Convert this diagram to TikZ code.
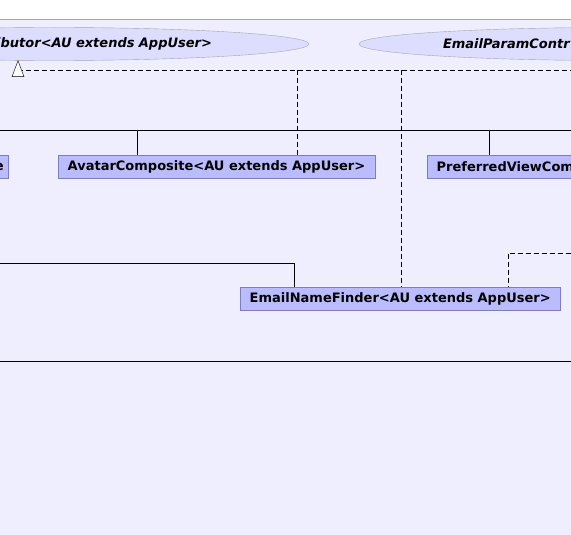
\documentclass[tikz,border=0pt]{standalone}
\usepackage{fontspec}
\setmainfont{DejaVu Sans}
\usetikzlibrary{shapes.geometric}

\definecolor{fond}{RGB}{238,238,255}
\definecolor{bulle}{RGB}{221,221,255}
\definecolor{boite}{RGB}{187,187,255}
\definecolor{bord}{RGB}{125,125,190}

\tikzset{
  classe/.style={draw=bord, fill=boite, font=\fontsize{13}{15}\selectfont\bfseries,
    inner xsep=9.5pt, inner ysep=0pt, minimum height=23pt},
  interface/.style={ellipse, draw=gray!70, fill=bulle,
    font=\fontsize{13}{15}\selectfont\bfseries\itshape,
    minimum width=510pt, minimum height=33pt, inner sep=0pt},
  realise/.style={dash pattern=on 5pt off 3pt},
}

\begin{document}
\begin{tikzpicture}[x=1pt,y=-1pt]

\useasboundingbox (0,0) rectangle (571,535);
\clip (0,0) rectangle (571,535);

% Fond
\fill[fond] (0,19) rectangle (571,535);
\draw[gray!70] (0,19) -- (571,19);

% Interfaces
\node[interface, text width=316pt, align=right] (contrib) at (54,44) {ibutor<AU extends AppUser>};
\node[interface, text width=342pt, align=left] (emailparam) at (614,44) {EmailParamContr};

% Classes
\node[classe, anchor=north east, inner xsep=4pt] (gauche) at (8,155) {e};
\node[classe, anchor=north west] (avatar) at (58,155) {AvatarComposite<AU extends AppUser>};
\node[classe, anchor=north west, text width=180pt, align=left] (prefview) at (427,155) {PreferredViewCom};
\node[classe, anchor=north west] (namefinder) at (240,287) {EmailNameFinder<AU extends AppUser>};

% Heritage
\coordinate (busG) at (0,130);
\coordinate (busD) at (571,130);
\draw (busG) -- (busD);
\coordinate (pA) at (137,130);
\draw (pA) -- (pA |- avatar.north);
\coordinate (pP) at (489,130);
\draw (pP) -- (pP |- prefview.north);

\coordinate (hG) at (0,263);
\coordinate (hN) at (294,263);
\draw (hG) -- (hN) -- (hN |- namefinder.north);

\coordinate (basG) at (0,361);
\coordinate (basD) at (571,361);
\draw[line width=1pt] (basG) -- (basD);

% Realisation
\coordinate (rG) at (18,70);
\coordinate (rD) at (571,70);
\draw[realise] (rG) -- (rD);
\coordinate (rA) at (297,70);
\draw[realise] (rA) -- (rA |- avatar.north);
\coordinate (rN) at (401,70);
\draw[realise] (rN) -- (rN |- namefinder.north);
\coordinate (rD2) at (571,253);
\coordinate (rC) at (508,253);
\draw[realise] (rD2) -- (rC) -- (rC |- namefinder.north);

% Fleche
\draw[fill=white] (contrib.south -| rG) -- ++(-6,16) -- ++(12,0) -- cycle;

\end{tikzpicture}
\end{document}
